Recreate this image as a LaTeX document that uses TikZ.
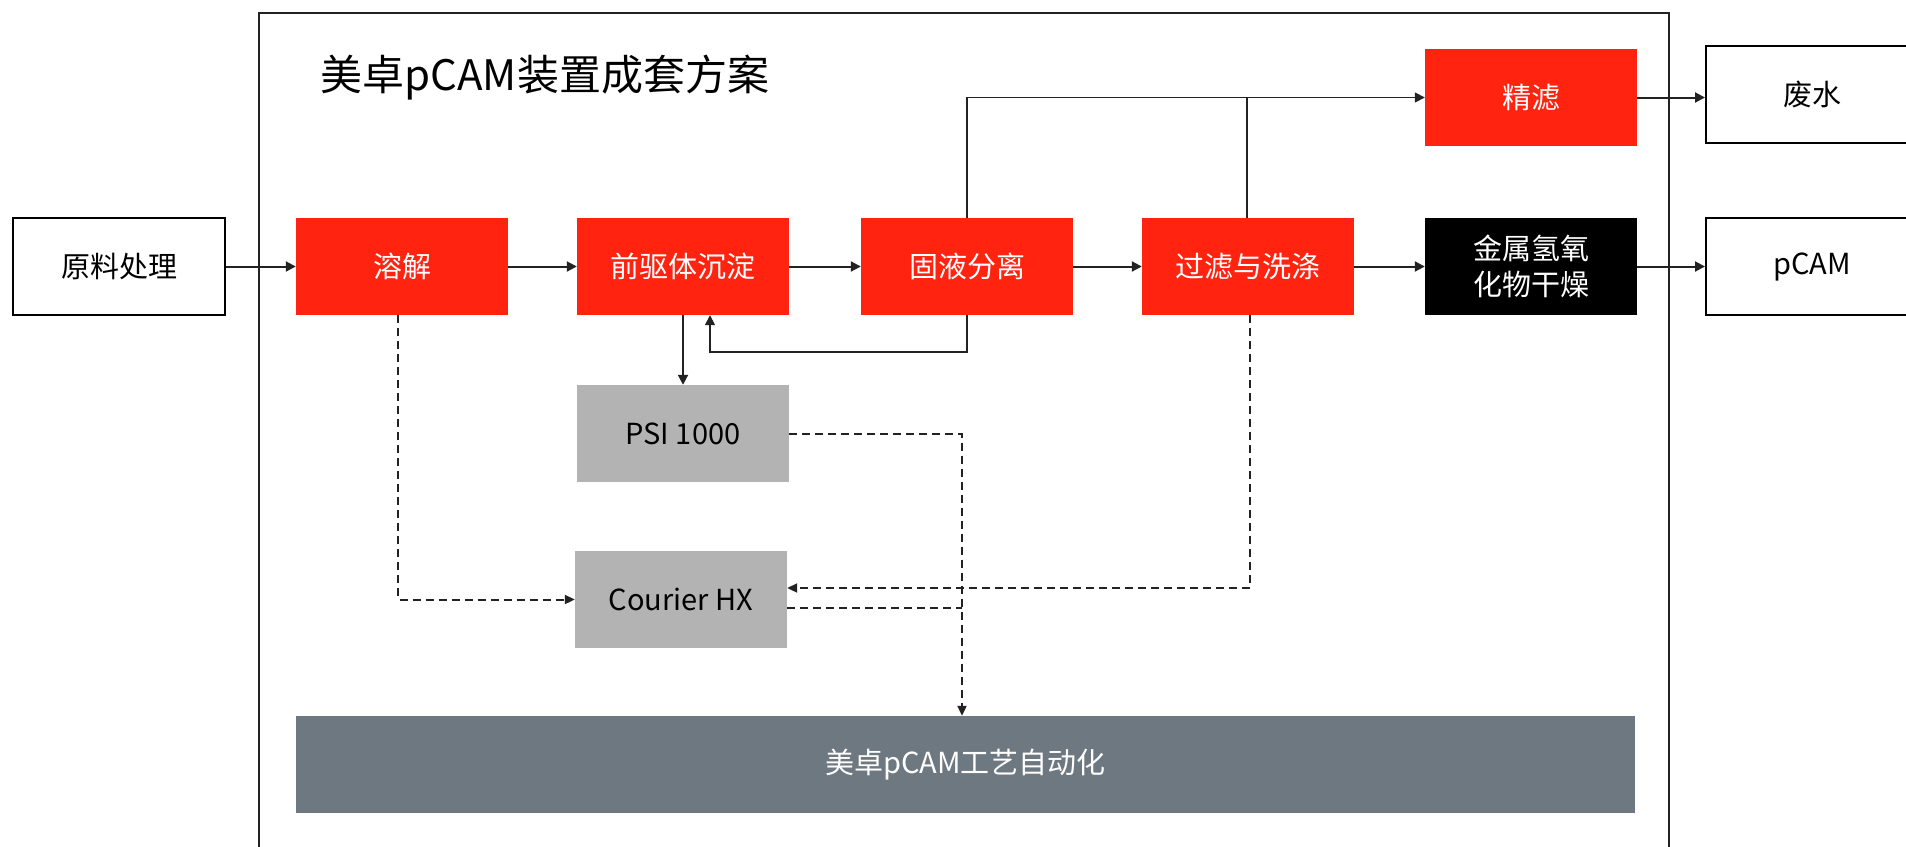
\documentclass[tikz,border=0pt]{standalone}
\usepackage{fontspec}
\newfontfamily\cjk{Noto Sans CJK SC}
\usetikzlibrary{arrows.meta}
\definecolor{mred}{HTML}{FF2310}
\definecolor{mgray}{HTML}{B3B3B3}
\definecolor{mslate}{HTML}{6E7880}
\definecolor{mline}{HTML}{222222}
\tikzset{
  box/.style={minimum width=212pt,minimum height=97pt,inner sep=0pt,font=\cjk\fontsize{29}{36}\selectfont,align=center},
  redbox/.style={box,fill=mred,text=white},
  blackbox/.style={box,fill=black,text=white},
  graybox/.style={box,fill=mgray,text=black},
  outbox/.style={box,draw=black,line width=2pt,fill=white,text=black},
  conn/.style={draw=mline,line width=2pt,-{Triangle[length=10pt,width=10pt]}},
  thin/.style={draw=mline,line width=1.6pt},
  dconn/.style={draw=mline,line width=2pt,dash pattern=on 8pt off 5pt,-{Triangle[length=10pt,width=9pt]}},
  dline/.style={draw=mline,line width=2pt,dash pattern=on 8pt off 5pt}
}
\begin{document}
\begin{tikzpicture}[x=1pt,y=-1pt]
\useasboundingbox (0,0) rectangle (1906,846);
\clip (0,0) rectangle (1906,846);
\fill[white] (0,0) rectangle (1906,846);
% frame
\draw[draw=mline,line width=2pt] (259,13) rectangle (1669,900);
\node[anchor=west,font=\cjk\fontsize{42}{50}\selectfont] (title) at (317,78) {美卓pCAM装置成套方案};
% nodes
\node[outbox] (raw) at (119,266.5) {原料处理};
\node[redbox] (dis) at (402,266.5) {溶解};
\node[redbox] (pre) at (683,266.5) {前驱体沉淀};
\node[redbox] (sep) at (967,266.5) {固液分离};
\node[redbox] (fil) at (1248,266.5) {过滤与洗涤};
\node[blackbox] (dry) at (1531,266.5) {金属氢氧\\化物干燥};
\node[redbox] (fine) at (1531,97.5) {精滤};
\node[outbox] (waste) at (1812,94.5) {废水};
\node[outbox] (pcam) at (1812,266.5) {pCAM};
\node[graybox] (psi) at (683,433.5) {PSI 1000};
\node[graybox] (cou) at (681,599.5) {Courier HX};
\node[box,minimum width=1339pt,fill=mslate,text=white] (auto) at (965.5,764.5) {美卓pCAM工艺自动化};
% main flow
\draw[conn] (raw) -- (dis);
\draw[conn] (dis) -- (pre);
\draw[conn] (pre) -- (sep);
\draw[conn] (sep) -- (fil);
\draw[conn] (fil) -- (dry);
\draw[conn] (dry) -- (pcam);
\draw[conn] (fine.east) -- (fine.east -| waste.west);
% down to PSI
\draw[conn] (pre.south) -- (psi.north);
% feedback
\coordinate (fb1) at (967,352);
\coordinate (fb2) at (710,352);
\draw[conn,line width=1.6pt] (sep.south) -- (fb1) -- (fb2) -- (fb2 |- pre.south);
% top line to fine
\coordinate (t1) at (967,97.5);
\coordinate (t2) at (1247,97.5);
\draw[conn,line width=1.6pt] (sep.north) -- (t1) -- (fine.west);
\draw[thin] (fil.north -| t2) -- (t2);
% dashed
\coordinate (d1) at (398,599.5);
\draw[dconn] (dis.south -| d1) -- (d1) -- (cou.west);
\coordinate (d2) at (962,433.5);
\draw[dconn] (psi.east) -- (d2) -- (d2 |- auto.north);
\coordinate (d3) at (962,608);
\draw[dline] (cou.east |- d3) -- (d3);
\coordinate (d4) at (1250,588);
\draw[dconn] (fil.south -| d4) -- (d4) -- (d4 -| cou.east);
\end{tikzpicture}
\end{document}
